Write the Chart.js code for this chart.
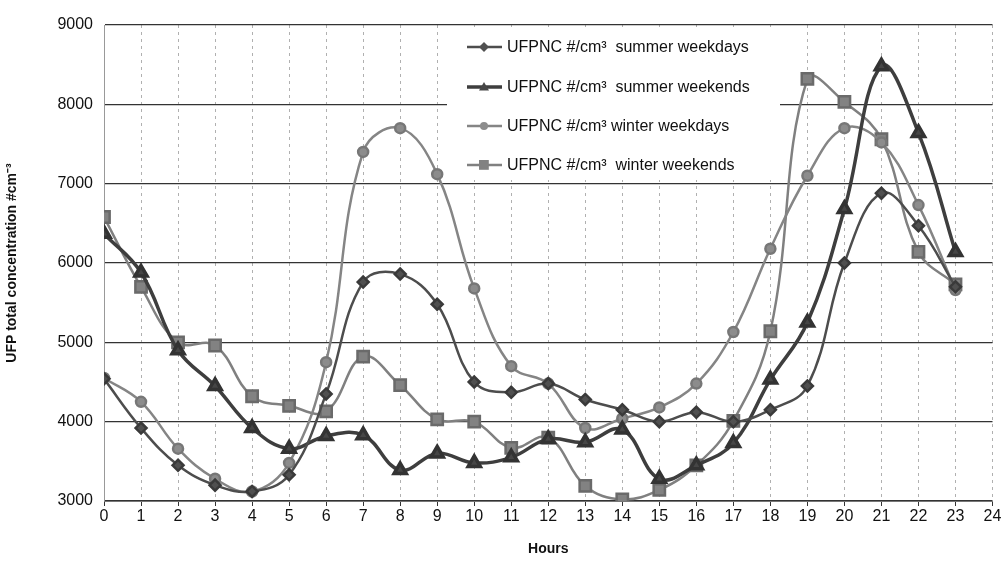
<!DOCTYPE html>
<html>
<head>
<meta charset="utf-8">
<script src="https://cdn.jsdelivr.net/npm/chart.js@4"></script>
<style>
  html, body { margin: 0; padding: 0; background: #fff; }
  #wrap { width: 1003px; height: 562px; }
</style>
</head>
<body>
<div id="wrap"><canvas id="ufpChart" width="1003" height="562"></canvas></div>
<script>
const hours = [0, 1, 2, 3, 4, 5, 6, 7, 8, 9, 10, 11, 12, 13, 14, 15, 16, 17, 18, 19, 20, 21, 22, 23];
const summerWeekdays = [4540, 3920, 3450, 3200, 3120, 3330, 4350, 5760, 5860, 5480, 4500, 4370, 4480, 4280, 4150, 4000, 4120, 4000, 4150, 4450, 6000, 6880, 6470, 5700];
const summerWeekends = [6370, 5880, 4900, 4450, 3920, 3660, 3820, 3830, 3390, 3600, 3480, 3550, 3780, 3740, 3900, 3280, 3450, 3730, 4530, 5250, 6680, 8480, 7640, 6140];
const winterWeekdays = [4550, 4250, 3660, 3280, 3120, 3480, 4750, 7400, 7700, 7120, 5680, 4700, 4480, 3920, 4040, 4180, 4480, 5130, 6180, 7100, 7700, 7520, 6730, 5660];
const winterWeekends = [6580, 5700, 5000, 4960, 4320, 4200, 4130, 4820, 4460, 4030, 4000, 3670, 3800, 3190, 3020, 3140, 3450, 4010, 5140, 8320, 8030, 7560, 6140, 5730];
const seriesLabels = [
  'UFPNC #/cm\u00B3  summer weekdays',
  'UFPNC #/cm\u00B3  summer weekends',
  'UFPNC #/cm\u00B3 winter weekdays',
  'UFPNC #/cm\u00B3  winter weekends'
];

function pts(vals) {
  return vals.map((v, i) => ({ x: hours[i], y: v }));
}

// legend sits inside the plot on a white patch that hides the grid
const innerLegend = {
  id: 'innerLegend',
  beforeDatasetsDraw(chart) {
    const ctx = chart.ctx;
    ctx.save();
    ctx.fillStyle = '#fff';
    ctx.fillRect(447, 27, 333, 153);
    ctx.font = '16px Arial, "Liberation Sans", sans-serif';
    ctx.textBaseline = 'middle';
    const rows = [47, 87, 126, 165];
    chart.data.datasets.forEach((ds, i) => {
      const y = rows[i];
      ctx.strokeStyle = ds.borderColor;
      ctx.lineWidth = ds.borderWidth;
      ctx.beginPath();
      ctx.moveTo(467, y);
      ctx.lineTo(502, y);
      ctx.stroke();
      ctx.fillStyle = ds.pointBackgroundColor;
      const s = i === 3 ? 7 : 5;
      ctx.beginPath();
      if (ds.pointStyle === 'rectRot') {
        ctx.moveTo(484, y - s); ctx.lineTo(484 + s, y); ctx.lineTo(484, y + s); ctx.lineTo(484 - s, y);
      } else if (ds.pointStyle === 'triangle') {
        ctx.moveTo(484, y - s); ctx.lineTo(484 + s, y + s * 0.7); ctx.lineTo(484 - s, y + s * 0.7);
      } else if (ds.pointStyle === 'circle') {
        ctx.arc(484, y, 4, 0, Math.PI * 2);
      } else {
        ctx.rect(484 - s / 1.4, y - s / 1.4, s * 1.4, s * 1.4);
      }
      ctx.closePath();
      ctx.fill();
      ctx.fillStyle = '#111';
      ctx.fillText(ds.label, 507, y + 1);
    });
    ctx.restore();
  }
};

new Chart(document.getElementById('ufpChart'), {
  type: 'line',
  data: {
    datasets: [
      {
        label: seriesLabels[0],
        data: pts(summerWeekdays),
        borderColor: '#4d4d4d',
        pointBackgroundColor: '#505050',
        pointBorderColor: '#3a3a3a',
        borderWidth: 2.5,
        pointStyle: 'rectRot',
        pointRadius: 5.5
      },
      {
        label: seriesLabels[1],
        data: pts(summerWeekends),
        borderColor: '#3e3e3e',
        pointBackgroundColor: '#464646',
        pointBorderColor: '#333',
        borderWidth: 3.5,
        pointStyle: 'triangle',
        pointRadius: 7
      },
      {
        label: seriesLabels[2],
        data: pts(winterWeekdays),
        borderColor: '#858585',
        pointBackgroundColor: '#8c8c8c',
        pointBorderColor: '#777',
        borderWidth: 2.5,
        pointStyle: 'circle',
        pointRadius: 5
      },
      {
        label: seriesLabels[3],
        data: pts(winterWeekends),
        borderColor: '#808080',
        pointBackgroundColor: '#828282',
        pointBorderColor: '#6a6a6a',
        borderWidth: 2.5,
        pointStyle: 'rect',
        pointRadius: 8
      }
    ]
  },
  options: {
    responsive: false,
    animation: false,
    layout: { padding: { left: 0, right: 10, top: 25, bottom: 0 } },
    elements: { line: { tension: 0.4, fill: false } },
    plugins: {
      legend: { display: false },
      tooltip: { enabled: false }
    },
    scales: {
      x: {
        type: 'linear',
        min: 0,
        max: 24,
        ticks: {
          stepSize: 1,
          color: '#111',
          font: { family: 'Arial', size: 16 },
          padding: 1
        },
        grid: {
          color: '#b0b0b0',
          lineWidth: 1,
          tickColor: '#333',
          tickLength: 5
        },
        border: { color: '#777', dash: [3, 4] },
        title: {
          display: true,
          text: 'Hours',
          color: '#111',
          font: { family: 'Arial', size: 14, weight: 'bold' },
          padding: { top: 12 }
        },
        afterFit(scale) { scale.height = 61; }
      },
      y: {
        min: 3000,
        max: 9000,
        ticks: {
          stepSize: 1000,
          color: '#111',
          font: { family: 'Arial', size: 16 },
          padding: 11,
          callback: (v) => String(v)
        },
        grid: {
          color: '#333',
          lineWidth: 1.2,
          drawTicks: false
        },
        border: { color: '#999' },
        title: {
          display: true,
          text: 'UFP total concentration #cm\u207B\u00B3',
          color: '#111',
          font: { family: 'Arial', size: 14, weight: 'bold' },
          padding: { top: 4, bottom: 4 }
        },
        afterFit(scale) { scale.width = 104; }
      }
    }
  },
  plugins: [innerLegend]
});
</script>
</body>
</html>
